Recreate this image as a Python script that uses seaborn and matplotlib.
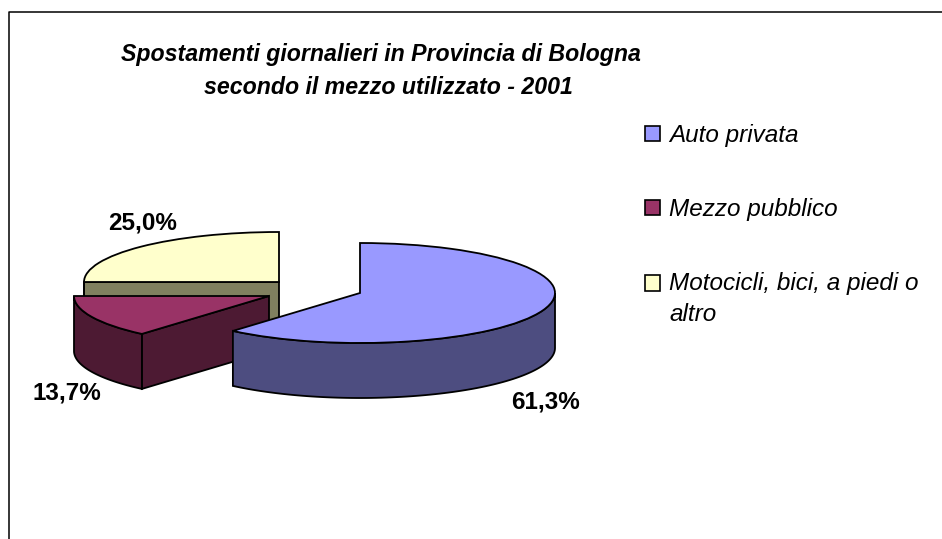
import numpy as np
import matplotlib.pyplot as plt
from matplotlib.patches import Patch
import seaborn as sns

labels = ['Auto privata', 'Mezzo pubblico', 'Motocicli, bici, a piedi o\naltro']
values = [61.3, 13.7, 25.0]
top_colors = ['#9999FF', '#993366', '#FFFFCC']
side_colors = ['#4D4D80', '#4D1A33', '#80805F']

title_lines = ['Spostamenti giornalieri in Provincia di Bologna', 'secondo il mezzo utilizzato - 2001']
title_px = [(380.5, 54), (388.5, 87)]

# apex of every exploded slice and label spot, in image pixels
apex_px = [(360, 293), (269, 296), (279, 282)]
label_px = [(545, 402), (67, 393), (143, 223)]

W, H = 942, 539
RX, RY, DEPTH = 195, 50, 55
SQUASH = RX / RY  # y data units per pixel


def to_data(px, py):
    return px, (H - py) * SQUASH


sns.set_theme(style='white')
plt.rcParams['font.family'] = ['Liberation Sans', 'DejaVu Sans']

fig = plt.figure(figsize=(W / 100, H / 100), dpi=100, facecolor='white')
ax = fig.add_axes([0, 0, 1, 1])

wedges, _ = ax.pie(values, colors=top_colors, radius=RX, startangle=90, counterclock=False,
                   wedgeprops={'edgecolor': 'black', 'linewidth': 1.3, 'joinstyle': 'miter'})
ax.set_aspect('auto')
ax.set_xlim(0, W)
ax.set_ylim(0, H * SQUASH)
ax.axis('off')

drop = DEPTH * SQUASH
# back slice first: yellow, then maroon, then blue in front
for i, wedge in sorted(enumerate(wedges), key=lambda t: -t[0]):
    z = 2 * (len(wedges) - i)
    cx, cy = to_data(*apex_px[i])
    wedge.set_center((cx, cy))
    wedge.set_zorder(z)
    t1, t2 = wedge.theta1, wedge.theta2

    # flat cut faces that look towards the viewer
    for t, normal in ((t2, t2 + 90), (t1, t1 - 90)):
        if np.sin(np.radians(normal)) < -0.01:
            ex = cx + RX * np.cos(np.radians(t))
            ey = cy + RX * np.sin(np.radians(t))
            ax.fill([cx, ex, ex, cx], [cy, ey, ey - drop, cy - drop], facecolor=side_colors[i],
                    edgecolor='black', linewidth=1.3, zorder=z - 1)

    # outer rim, only the front half of the ellipse
    a1, a2 = max(t1, -180), min(t2, 0)
    if a2 > a1:
        th = np.radians(np.linspace(a1, a2, 90))
        xs = cx + RX * np.cos(th)
        ys = cy + RX * np.sin(th)
        ax.fill(np.r_[xs, xs[::-1]], np.r_[ys, ys[::-1] - drop], facecolor=side_colors[i],
                edgecolor='black', linewidth=1.3, zorder=z - 1)

for v, (px, py) in zip(values, label_px):
    x, y = to_data(px, py)
    ax.text(x, y, f'{v:.1f}%'.replace('.', ','), ha='center', va='center',
            fontsize=17.5, fontweight='bold', color='black', zorder=10)

for line, (px, py) in zip(title_lines, title_px):
    fig.text(px / W, 1 - py / H, line, ha='center', va='center', fontsize=16.7,
             fontweight='bold', fontstyle='italic', color='black')

# chart frame: only left and top show, the rest is cut by the image
ax.plot(*zip(to_data(9, H), to_data(9, 12), to_data(W, 12)), color='black', lw=1.1, clip_on=False)

handles = [Patch(facecolor=c, edgecolor='black', linewidth=1.2) for c in top_colors]
leg = fig.legend(handles, labels, loc='upper left', bbox_to_anchor=(645 / W, 1 - 124 / H), frameon=False,
                 prop={'size': 17.5, 'style': 'italic'}, handlelength=0.62, handleheight=0.62,
                 handletextpad=0.37, labelspacing=2.1, labelcolor='black',
                 borderpad=0, borderaxespad=0)
leg.get_texts()[2].set_linespacing(1.45)
# last entry has two lines: keep its box next to the first line
box = leg.legend_handles[2]
box.set_y(box.get_y() + 12)

fig.savefig('out.png', dpi=100)
